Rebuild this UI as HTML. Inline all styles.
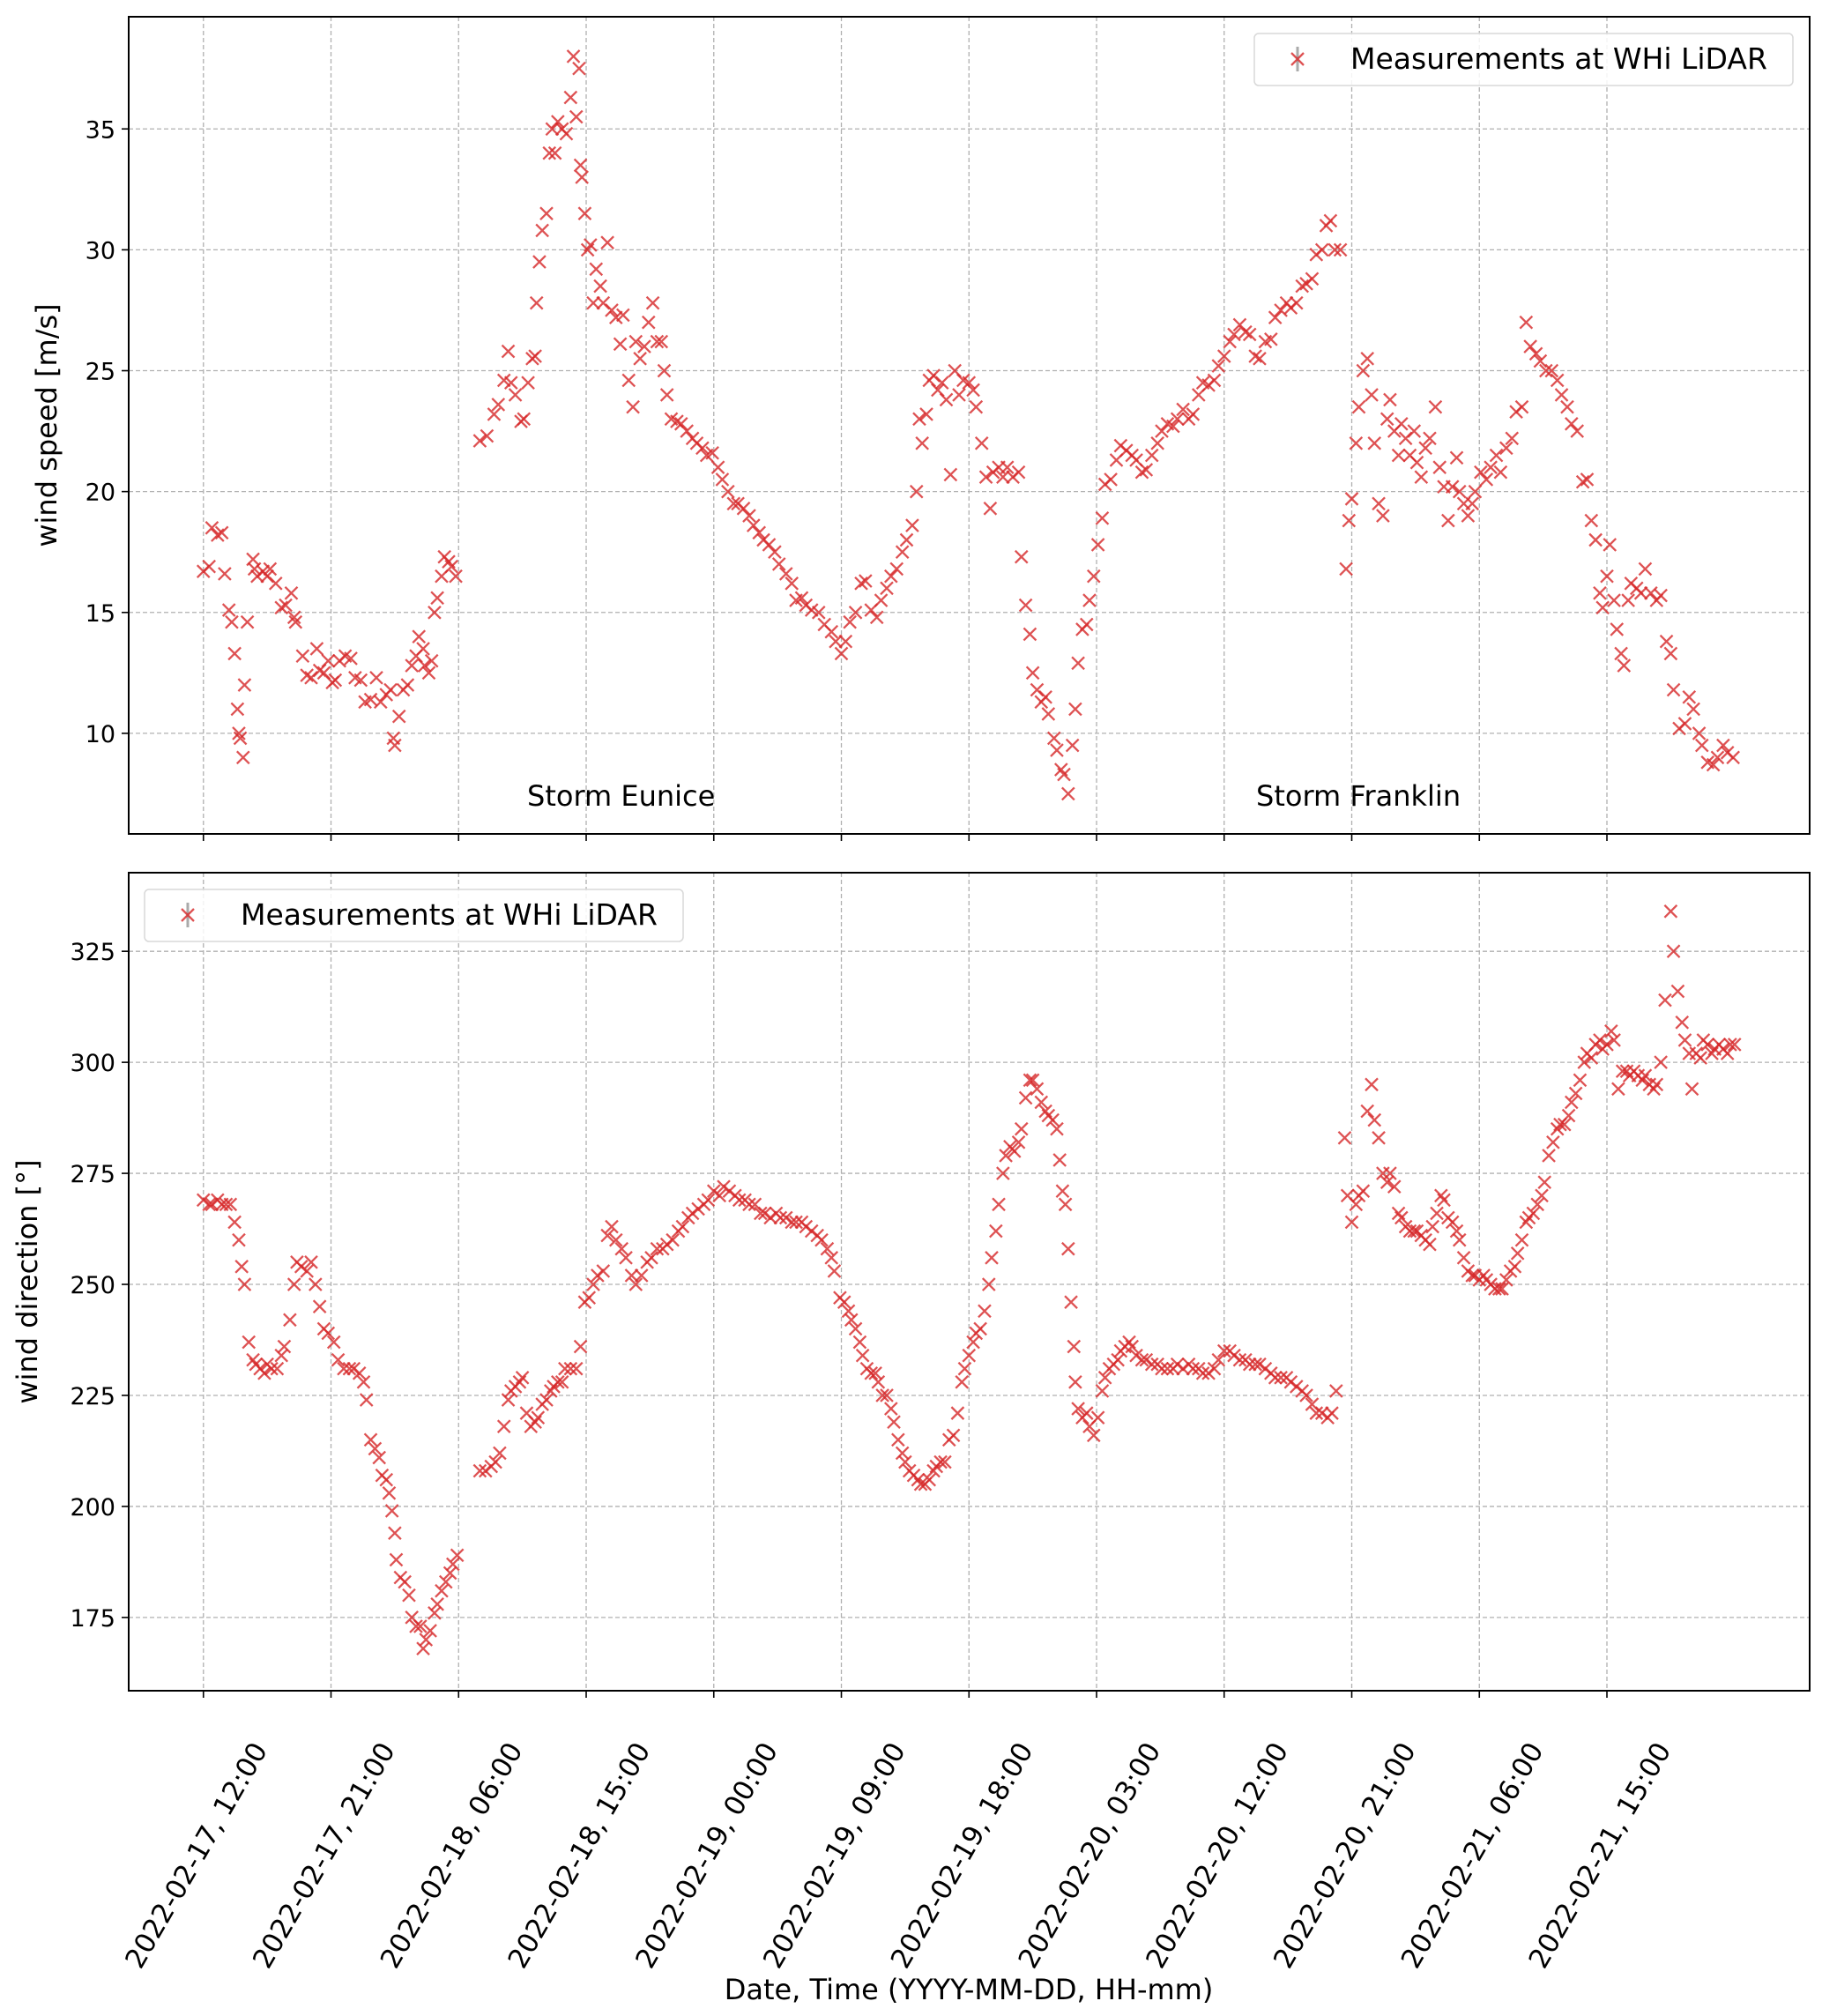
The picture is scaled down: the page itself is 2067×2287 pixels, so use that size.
<!DOCTYPE html>
<html><head><meta charset="utf-8"><style>
html,body{margin:0;padding:0;background:#fff}
svg{display:block;font-family:"DejaVu Sans","Liberation Sans",sans-serif}
</style></head><body>
<svg id="chart" width="2067" height="2287" viewBox="0 0 2067 2287" xmlns="http://www.w3.org/2000/svg">
<rect width="2067" height="2287" fill="#fff"/>
<g id="topPanel"></g>
<g id="botPanel"></g>
</svg>
<script>
const xTickLabels=["2022-02-17, 12:00","2022-02-17, 21:00","2022-02-18, 06:00","2022-02-18, 15:00","2022-02-19, 00:00","2022-02-19, 09:00","2022-02-19, 18:00","2022-02-20, 03:00","2022-02-20, 12:00","2022-02-20, 21:00","2022-02-21, 06:00","2022-02-21, 15:00"];
const xTickHours=[0,9,18,27,36,45,54,63,72,81,90,99];
const speedTicks=[10,15,20,25,30,35];
const dirTicks=[175,200,225,250,275,300,325];
const speedT=[0,0.4,0.6,1.0,1.3,1.5,1.8,2.0,2.2,2.4,2.5,2.6,2.8,2.9,3.1,3.5,3.6,3.8,4.2,4.5,4.7,5.1,5.5,5.8,6.2,6.4,6.5,7.0,7.3,7.6,8.0,8.2,8.5,8.8,9.1,9.3,9.6,10.0,10.4,10.7,11.1,11.4,11.8,12.2,12.5,12.9,13.2,13.4,13.5,13.8,14.1,14.4,14.7,15.0,15.2,15.5,15.6,15.9,16.1,16.3,16.5,16.8,17.0,17.3,17.5,17.8,
19.5,20.0,20.5,20.8,21.2,21.5,21.7,22.0,22.4,22.6,22.9,23.2,23.4,23.5,23.7,23.9,24.2,24.4,24.6,24.8,25.0,25.3,25.6,25.9,26.1,26.3,26.5,26.6,26.7,26.9,27.1,27.3,27.5,27.7,28.0,28.2,28.5,28.8,29.1,29.4,29.6,30.0,30.3,30.5,30.8,31.1,31.4,31.7,32.0,32.3,32.5,32.7,33.0,33.4,33.7,34.1,34.5,34.8,35.2,35.5,35.9,36.3,36.6,37.0,37.4,37.7,38.1,38.5,38.8,39.2,39.5,39.9,40.3,40.6,41.1,41.5,41.8,42.2,42.5,42.9,43.4,43.8,44.3,44.6,45.0,45.3,45.6,46.0,46.4,46.7,47.1,47.5,47.8,48.2,48.5,48.9,49.3,49.6,50.0,50.3,50.5,50.7,51.0,51.2,51.5,51.8,52.1,52.4,52.7,53.0,53.3,53.6,54.0,54.3,54.5,54.9,55.2,55.5,55.7,56.1,56.4,56.7,57.1,57.5,57.7,58.0,58.3,58.5,58.8,59.1,59.4,59.6,60.0,60.2,60.5,60.7,61.0,61.3,61.5,61.7,62.0,62.3,62.5,62.8,63.1,63.4,63.6,64.0,64.4,64.7,65.1,65.5,65.8,66.2,66.5,66.9,67.3,67.6,68.0,68.4,68.7,69.1,69.5,69.8,70.2,70.5,70.9,71.3,71.6,72.0,72.4,72.7,73.1,73.5,73.8,74.2,74.5,74.9,75.3,75.6,76.0,76.4,76.7,77.1,77.5,77.8,78.2,78.5,78.9,79.2,79.5,79.8,80.2,
80.6,80.8,81.0,81.3,81.5,81.8,82.1,82.4,82.6,82.9,83.2,83.5,83.7,84.0,84.3,84.5,84.8,85.1,85.4,85.6,85.9,86.2,86.5,86.9,87.2,87.5,87.8,88.1,88.4,88.6,88.9,89.2,89.5,89.7,90.1,90.5,90.8,91.2,91.5,91.9,92.3,92.6,93.0,93.3,93.6,94.0,94.3,94.7,95.1,95.5,95.8,96.2,96.5,96.9,97.3,97.6,97.9,98.2,98.5,98.7,99.0,99.2,99.5,99.7,100.0,100.2,100.5,100.7,101.1,101.4,101.7,102.1,102.5,102.8,103.2,103.5,103.7,104.1,104.5,104.8,105.1,105.5,105.7,106.1,106.5,106.8,107.2,107.5,107.9];
const speedV=[16.7,16.9,18.5,18.2,18.3,16.6,15.1,14.6,13.3,11,10,9.8,9,12,14.6,17.2,16.8,16.5,16.7,16.5,16.8,16.2,15.2,15.3,15.8,14.8,14.6,13.2,12.4,12.3,13.5,12.6,12.5,13,12.1,12.2,13,13.2,13.1,12.3,12.2,11.3,11.4,12.3,11.3,11.6,11.8,9.8,9.5,10.7,11.8,12,12.8,13.2,14,13.5,12.8,12.5,13,15,15.6,16.5,17.3,17.1,16.9,16.5,
22.1,22.3,23.2,23.6,24.6,25.8,24.5,24,22.9,23,24.5,25.5,25.6,27.8,29.5,30.8,31.5,34,35,34,35.3,35,34.8,36.3,38,35.5,37.5,33.5,33,31.5,30,30.2,27.8,29.2,28.5,27.8,30.3,27.5,27.2,26.1,27.3,24.6,23.5,26.2,25.5,26,27,27.8,26.2,26.2,25,24,23,22.9,22.8,22.5,22.2,22,21.8,21.5,21.6,21,20.5,20,19.5,19.5,19.3,19,18.6,18.3,18,17.8,17.5,17,16.6,16.2,15.5,15.6,15.3,15.1,15,14.5,14.2,13.8,13.3,13.8,14.6,15,16.2,16.3,15.1,14.8,15.5,16,16.5,16.8,17.5,18,18.6,20,23,22,23.2,24.6,24.8,24.2,24.5,23.8,20.7,25,24,24.6,24.5,24.2,23.5,22,20.6,19.3,20.8,21,20.6,21,20.6,20.8,17.3,15.3,14.1,12.5,11.8,11.3,11.5,10.8,9.8,9.3,8.5,8.3,7.5,9.5,11,12.9,14.3,14.5,15.5,16.5,17.8,18.9,20.3,20.5,21.3,21.9,21.7,21.5,21.3,20.8,20.9,21.5,22,22.5,22.8,22.7,23,23.4,23,23.2,24,24.5,24.4,24.6,25.2,25.6,26.2,26.5,26.9,26.6,26.5,25.6,25.5,26.2,26.3,27.2,27.5,27.8,27.6,27.8,28.5,28.6,28.8,29.8,30,31,31.2,30,30,
16.8,18.8,19.7,22,23.5,25,25.5,24,22,19.5,19,23,23.8,22.5,21.5,22.8,22.2,21.5,22.5,21.2,20.6,21.8,22.2,23.5,21,20.2,18.8,20.2,21.4,20,19.5,19,19.5,20,20.8,20.5,21,21.5,20.8,21.8,22.2,23.3,23.5,27,26,25.7,25.4,25,25,24.6,24,23.5,22.8,22.5,20.4,20.5,18.8,18,15.8,15.2,16.5,17.8,15.5,14.3,13.3,12.8,15.5,16.2,16,15.8,16.8,15.8,15.5,15.7,13.8,13.3,11.8,10.2,10.4,11.5,11,10,9.5,8.8,8.7,9,9.5,9.2,9];
const dirT=[0,0.4,0.6,1.0,1.3,1.6,1.9,2.2,2.5,2.7,2.9,3.2,3.5,3.7,4.0,4.3,4.5,4.8,5.2,5.5,5.7,6.1,6.4,6.6,6.9,7.3,7.6,7.9,8.2,8.5,8.8,9.2,9.5,9.9,10.3,10.6,11.0,11.3,11.5,11.8,12.1,12.4,12.6,12.9,13.1,13.3,13.5,13.6,13.9,14.2,14.5,14.7,15.0,15.3,15.5,15.7,16.0,16.3,16.5,16.8,17.1,17.4,17.6,17.9,
19.5,19.9,20.3,20.6,20.9,21.2,21.5,21.7,22.0,22.3,22.5,22.8,23.1,23.4,23.6,23.9,24.2,24.5,24.7,25.0,25.3,25.5,25.9,26.3,26.6,26.9,27.2,27.5,27.8,28.2,28.5,28.8,29.1,29.5,29.8,30.2,30.5,30.9,31.3,31.6,32.0,32.4,32.7,33.1,33.5,33.8,34.2,34.5,34.9,35.3,35.6,36.0,36.4,36.7,37.1,37.5,37.8,38.2,38.5,38.9,39.3,39.6,40.0,40.4,40.7,41.1,41.5,41.8,42.2,42.5,42.9,43.3,43.6,44.0,44.3,44.5,44.9,45.2,45.5,45.7,46.0,46.3,46.5,46.8,47.1,47.4,47.6,47.9,48.2,48.5,48.7,49.0,49.3,49.5,49.8,50.1,50.4,50.6,50.9,51.2,51.5,51.7,52.0,52.3,52.6,52.9,53.2,53.5,53.7,54.0,54.3,54.5,54.8,55.1,55.4,55.6,55.9,56.1,56.4,56.6,56.9,57.2,57.5,57.7,58.0,58.3,58.5,58.8,59.1,59.4,59.6,59.9,60.2,60.4,60.6,60.8,61.0,61.2,61.4,61.5,61.7,62.0,62.3,62.5,62.8,63.1,63.4,63.6,63.9,64.2,64.5,64.7,65.0,65.3,65.5,65.8,66.2,66.5,66.9,67.3,67.6,68.0,68.4,68.7,69.1,69.5,69.8,70.2,70.5,70.9,71.3,71.6,72.0,72.4,72.7,73.1,73.5,73.8,74.2,74.5,74.9,75.3,75.6,76.0,76.4,76.7,77.1,77.5,77.8,78.2,78.5,78.9,79.3,79.6,79.9,
80.5,80.7,81.0,81.3,81.5,81.8,82.1,82.4,82.6,82.9,83.2,83.5,83.7,84.0,84.3,84.5,84.8,85.1,85.4,85.6,85.9,86.2,86.5,86.7,87.0,87.3,87.5,87.8,88.1,88.4,88.6,88.9,89.2,89.5,89.7,90.0,90.3,90.5,90.8,91.1,91.4,91.6,91.9,92.2,92.5,92.7,93.0,93.3,93.5,93.8,94.1,94.4,94.6,94.9,95.2,95.5,95.7,96.0,96.3,96.5,96.8,97.1,97.4,97.6,97.9,98.2,98.5,98.7,99.0,99.3,99.5,99.8,100.1,100.4,100.6,100.9,101.2,101.5,101.7,102.0,102.3,102.5,102.8,103.1,103.5,103.7,104.0,104.3,104.5,104.8,105.0,105.3,105.6,105.8,106.1,106.4,106.6,106.9,107.2,107.5,107.7,108.0];
const dirV=[269,268,268,269,268,268,268,264,260,254,250,237,233,232,231,230,232,231,231,234,236,242,250,255,254,253,255,250,245,240,239,237,233,231,231,231,230,228,224,215,213,211,207,206,203,199,194,188,184,183,180,175,173,173,168,170,172,176,178,181,183,185,187,189,
208,208,209,210,212,218,224,226,227,228,229,221,218,219,220,223,224,226,227,228,228,231,231,231,236,246,247,250,252,253,261,263,260,258,256,252,250,252,255,256,258,258,259,260,262,263,265,266,267,268,269,271,270,272,271,270,269,269,268,268,266,266,265,266,265,265,264,264,264,263,262,261,260,258,256,253,247,246,244,242,240,237,234,231,230,230,228,225,225,222,219,215,212,210,208,207,206,205,205,206,208,209,210,210,215,216,221,228,231,234,237,239,240,244,250,256,262,268,275,279,281,280,282,285,292,296,296,294,291,289,288,287,285,278,271,268,258,246,236,228,222,220,221,218,216,220,226,229,231,232,233,235,236,237,236,234,233,233,232,232,231,231,231,232,231,232,231,231,230,230,231,233,235,235,234,233,233,232,232,232,231,230,229,229,229,228,227,226,225,223,221,221,220,221,226,
283,270,264,268,270,271,289,295,287,283,275,273,275,272,266,265,263,262,262,262,261,260,259,263,266,270,269,265,264,262,260,256,253,252,252,251,252,251,250,249,249,249,251,253,254,257,260,264,265,266,268,270,273,279,282,285,286,286,288,291,293,296,300,302,301,304,305,303,304,307,305,294,298,298,297,298,297,296,297,295,294,295,300,314,334,325,316,309,305,302,294,302,301,305,304,302,303,304,303,302,304,304];

const NS="http://www.w3.org/2000/svg";
const X0=146,X1=2053,HMIN=-5.27,HMAX=113.3;
function xs(h){return X0+(h-HMIN)/(HMAX-HMIN)*(X1-X0);}
function mk(tag,attrs,parent){const e=document.createElementNS(NS,tag);for(const k in attrs)e.setAttribute(k,attrs[k]);parent.appendChild(e);return e;}
const RED="#d62728";

function panel(g,y0,y1,vmin,vmax,ticks,T,V,yLabel,yLabelX,legendX,legendW,showXLabels){
  const ys=v=>y1-(v-vmin)/(vmax-vmin)*(y1-y0);
  xTickHours.forEach(h=>{const l=mk('line',{x1:xs(h),x2:xs(h),y1:y0,y2:y1,stroke:'#b0b0b0','stroke-width':1.3,'stroke-dasharray':'5,3'},g);
    
    });
  ticks.forEach(v=>{const l=mk('line',{x1:X0,x2:X1,y1:ys(v),y2:ys(v),stroke:'#b0b0b0','stroke-width':1.3,'stroke-dasharray':'5,3'},g);
    
    });
  const pts=mk('g',{},g);
  
  
  const r=7;
  const n=Math.min(T.length,V.length);
  for(let i=0;i<n;i++){
    const cx=xs(T[i]),cy=ys(V[i]);
    const p=mk('path',{d:`M${cx-r},${cy-r}L${cx+r},${cy+r}M${cx-r},${cy+r}L${cx+r},${cy-r}`,stroke:RED,'stroke-width':2.3,'stroke-opacity':0.8,fill:'none'},pts);
    
    
  }
  const fr=mk('rect',{x:X0,y:y0,width:X1-X0,height:y1-y0,fill:'none',stroke:'#000','stroke-width':2},g);
  
  
  ticks.forEach(v=>{
    mk('line',{x1:X0-8,x2:X0,y1:ys(v),y2:ys(v),stroke:'#000','stroke-width':1.6},g);
    const t=mk('text',{x:X0-15,y:ys(v)+10,'text-anchor':'end','font-size':27,fill:'#000'},g);
    t.textContent=v;
    
    
  });
  xTickHours.forEach((h,i)=>{
    mk('line',{x1:xs(h),x2:xs(h),y1:y1,y2:y1+8,stroke:'#000','stroke-width':1.6},g);
    if(showXLabels){
      const tx=xs(h)+1,ty=2110;
      const t=mk('text',{x:tx,y:ty,'text-anchor':'middle','font-size':31,fill:'#000',transform:`rotate(-60 ${tx} ${ty})`},g);
      t.textContent=xTickLabels[i];
      
      
    }
  });
  const yl=mk('text',{x:yLabelX,y:(y0+y1)/2,'text-anchor':'middle','font-size':32,fill:'#000',transform:`rotate(-90 ${yLabelX} ${(y0+y1)/2})`},g);
  yl.textContent=yLabel;
  
  
  const lg=mk('g',{},g);
  
  
  mk('rect',{x:legendX,y:y0+19,width:legendW,height:59,rx:5,fill:'#fff','fill-opacity':0.85,stroke:'#d8d8d8','stroke-width':1.5},lg);
  const mx=legendX+49,my=y0+48;
  mk('line',{x1:mx,x2:mx,y1:my-14,y2:my+14,stroke:'#aaa','stroke-width':3},lg);
  mk('path',{d:`M${mx-r},${my-r}L${mx+r},${my+r}M${mx-r},${my+r}L${mx+r},${my-r}`,stroke:RED,'stroke-width':2.3,'stroke-opacity':0.8},lg);
  const lt=mk('text',{x:legendX+109,y:my+11,'font-size':33,fill:'#000'},lg);
  lt.textContent='Measurements at WHi LiDAR';
  
  
  return ys;
}
const topG=document.getElementById('topPanel'),botG=document.getElementById('botPanel');
panel(topG,19,946,5.84,39.64,speedTicks,speedT,speedV,'wind speed [m/s]',64,1423,611,false);
panel(botG,990,1918,158.5,342.7,dirTicks,dirT,dirV,'wind direction [°]',42,164,611,true);
const a1=mk('text',{x:598,y:914,'font-size':32,fill:'#000'},topG);a1.textContent='Storm Eunice';


const a2=mk('text',{x:1425,y:914,'font-size':32,fill:'#000'},topG);a2.textContent='Storm Franklin';


const xl=mk('text',{x:1099,y:2268,'text-anchor':'middle','font-size':32,fill:'#000'},botG);xl.textContent='Date, Time (YYYY-MM-DD, HH-mm)';


</script>
</body></html>
